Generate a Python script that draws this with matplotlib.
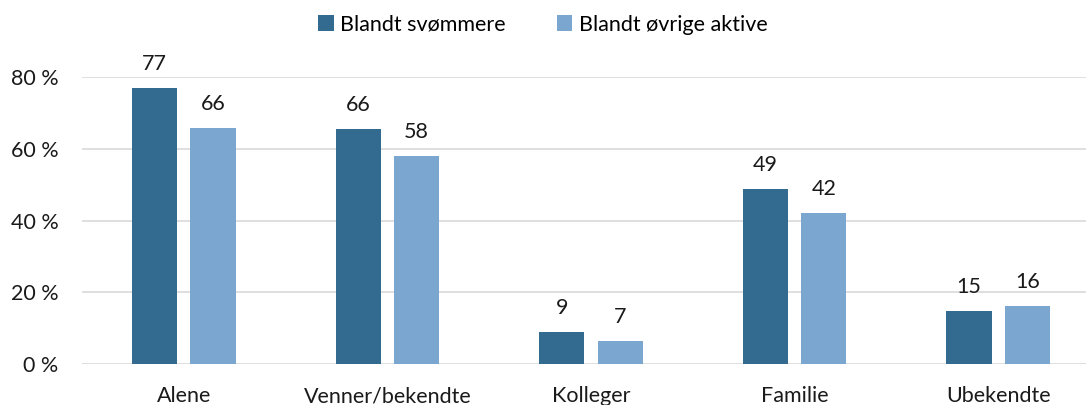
import matplotlib.pyplot as plt
import numpy as np
from matplotlib.ticker import FuncFormatter

categories = ["Alene", "Venner/bekendte", "Kolleger", "Familie", "Ubekendte"]
series_names = ["Blandt svømmere", "Blandt øvrige aktive"]
swimmers = [76.9, 65.6, 8.9, 48.8, 14.8]
others = [65.8, 58.0, 6.5, 42.1, 16.2]
swimmers_labels = ["77", "66", "9", "49", "15"]
others_labels = ["66", "58", "7", "42", "16"]

DARK = "#336a90"
LIGHT = "#7aa6cf"
FS = 15.5

plt.rcParams["font.family"] = ["Lato", "DejaVu Sans"]

fig = plt.figure(figsize=(10.86, 4.05), dpi=100)
ax = fig.add_axes([82 / 1086, 1 - 364 / 405, 1004 / 1086, 287 / 405])

x = np.arange(len(categories))
width = 0.222
offset = 0.143

b1 = ax.bar(x - offset, swimmers, width, color=DARK, label=series_names[0], zorder=3)
b2 = ax.bar(x + offset, others, width, color=LIGHT, label=series_names[1], zorder=3)

for bars, labels in ((b1, swimmers_labels), (b2, others_labels)):
    for rect, lab in zip(bars, labels):
        ax.annotate(lab, (rect.get_x() + rect.get_width() / 2, rect.get_height()),
                    xytext=(0, 10), textcoords="offset points", ha="center", va="bottom",
                    fontsize=FS, color="#1a1a1a", annotation_clip=False)

ax.set_xlim(-0.5, -0.5 + 1004 / 203.6)
ax.set_ylim(0, 80)
ax.set_yticks(np.arange(0, 81, 20))
ax.yaxis.set_major_formatter(FuncFormatter(lambda v, p: f"{int(v)} %"))
ax.set_xticks(x)
ax.set_xticklabels(categories)
ax.tick_params(axis="both", length=0, labelsize=FS, colors="#1a1a1a")
ax.tick_params(axis="y", pad=17)
ax.tick_params(axis="x", pad=16)
ax.grid(axis="y", color="#d9d9d9", linewidth=1.2, zorder=0)
for s in ax.spines.values():
    s.set_visible(False)

fig.legend(loc="upper center", bbox_to_anchor=(0.5, 1.012), ncol=2, frameon=False,
           fontsize=FS, handlelength=0.7, handleheight=0.7, handletextpad=0.3,
           columnspacing=2.4)

fig.savefig("out.png", dpi=100)
